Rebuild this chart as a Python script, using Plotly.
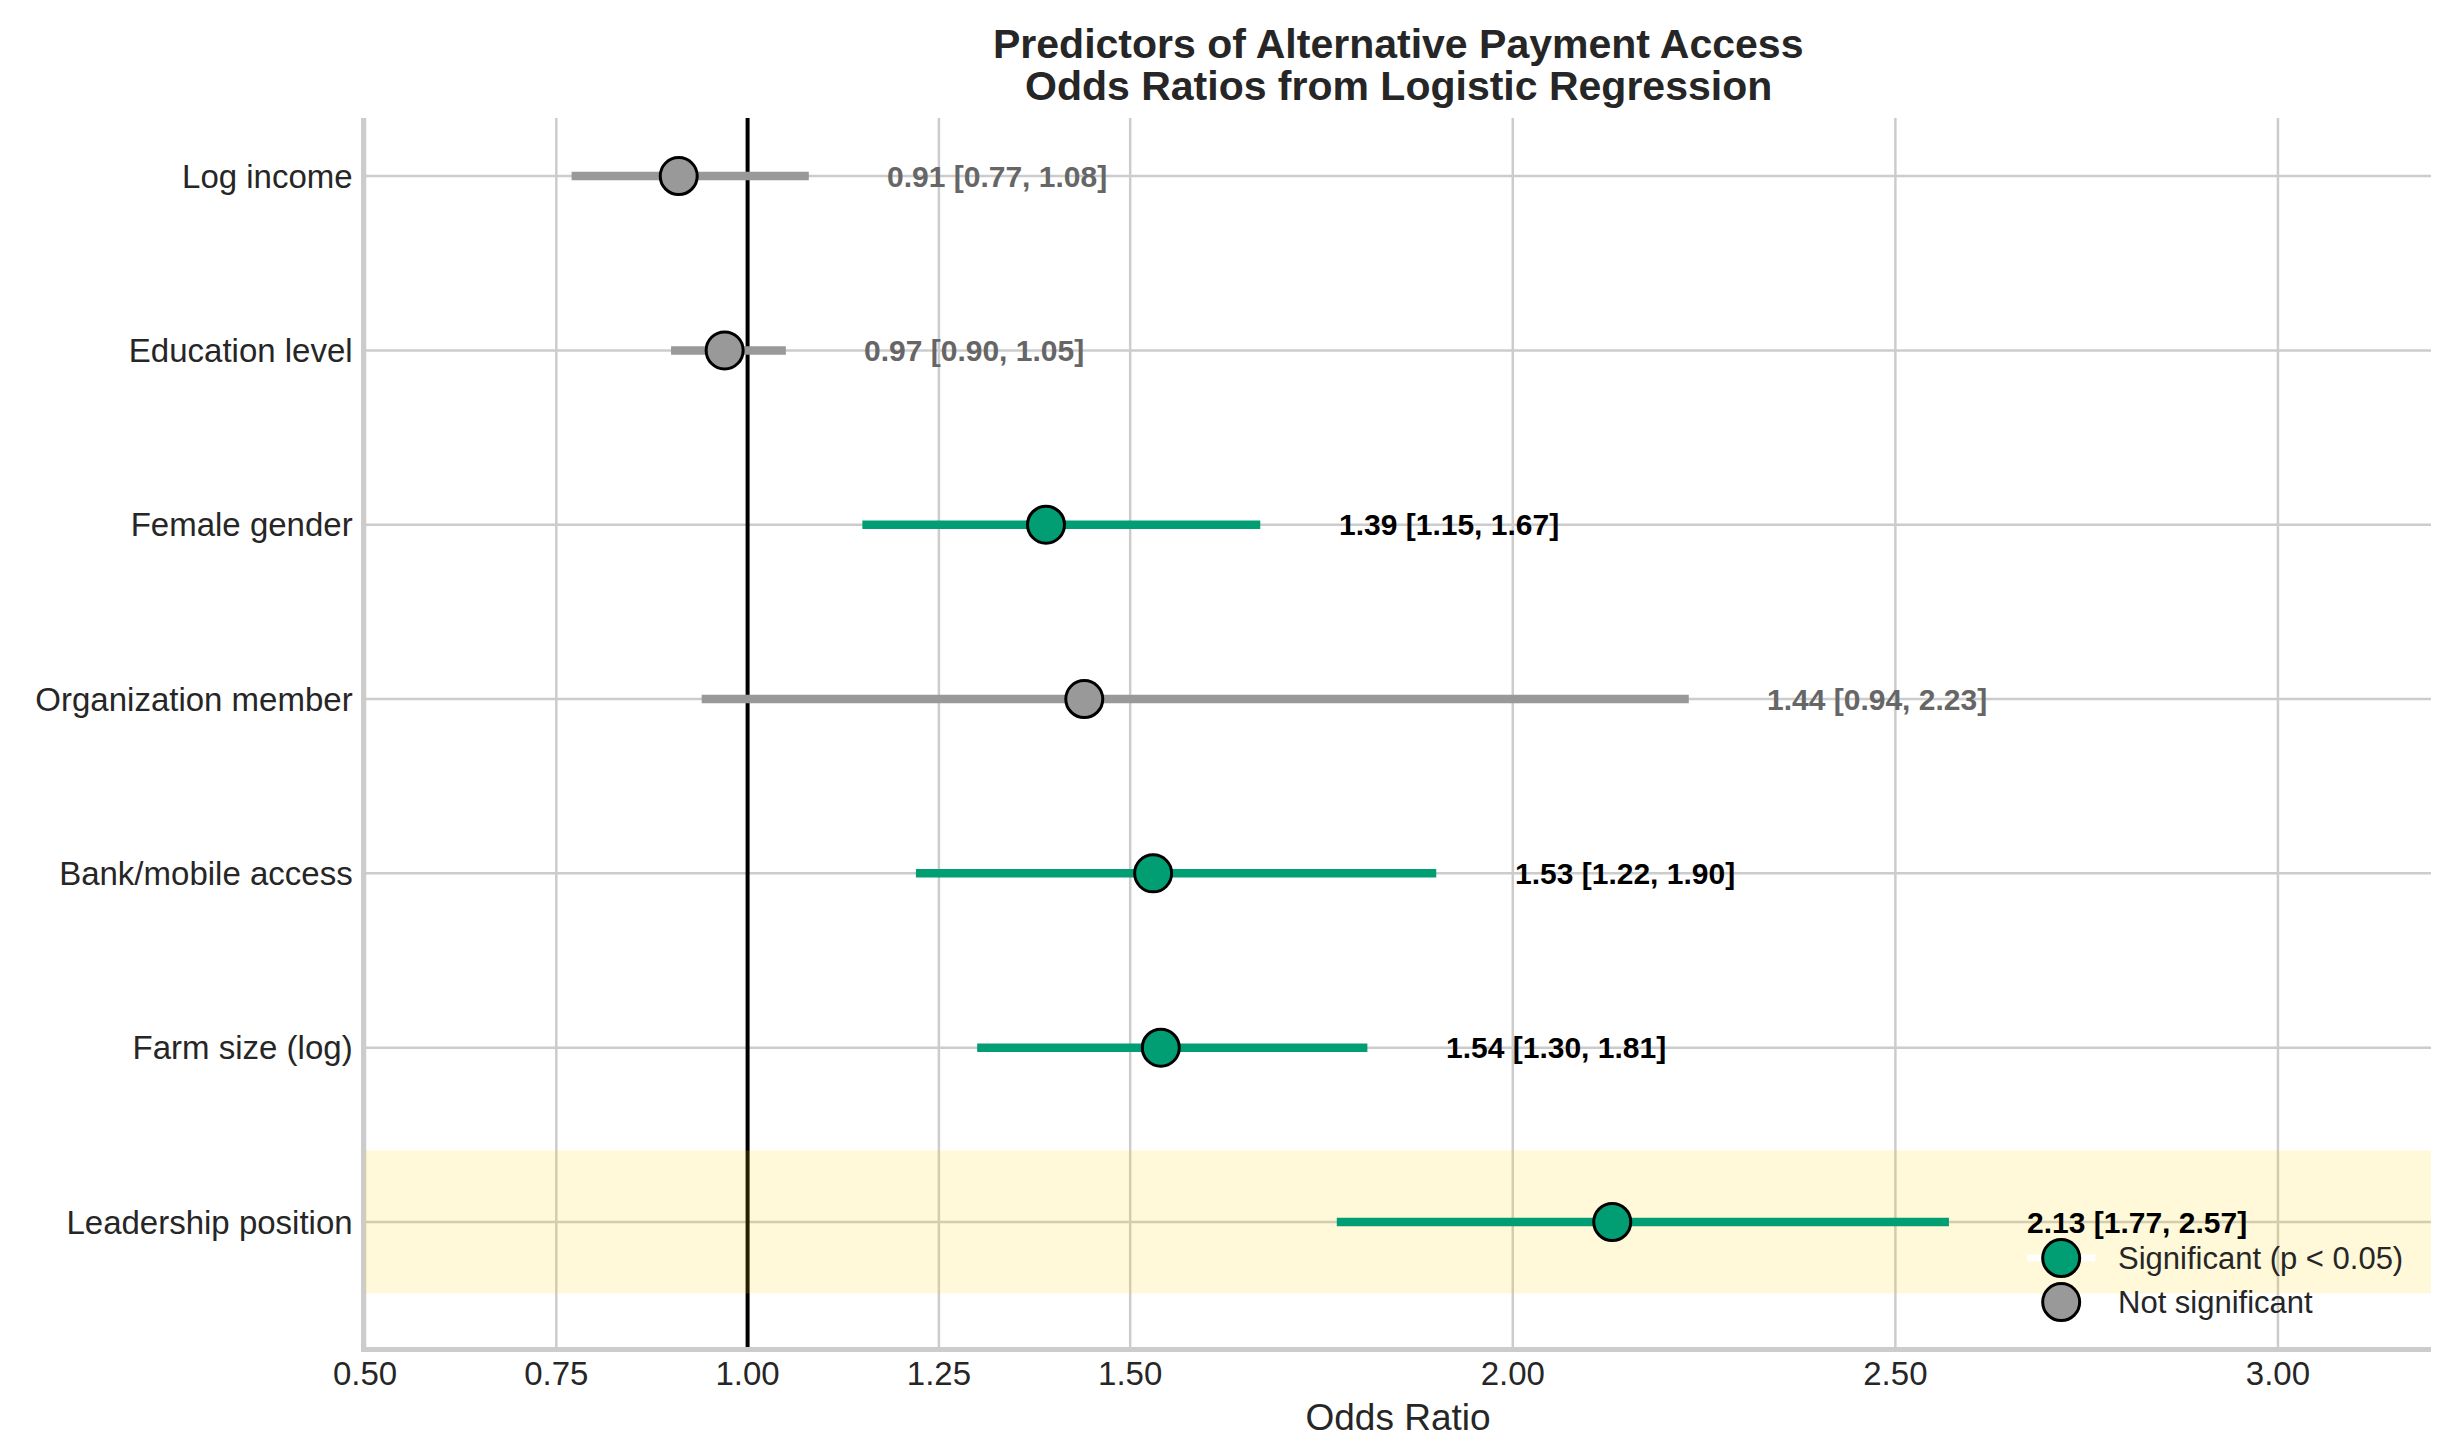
import plotly.graph_objects as go

# logistic regression output, top to bottom as shown
predictors = ["Log income", "Education level", "Female gender", "Organization member",
              "Bank/mobile access", "Farm size (log)", "Leadership position"]
odds_ratio = [0.91, 0.97, 1.39, 1.44, 1.53, 1.54, 2.13]
ci_lower = [0.77, 0.90, 1.15, 0.94, 1.22, 1.30, 1.77]
ci_upper = [1.08, 1.05, 1.67, 2.23, 1.90, 1.81, 2.57]
significant = [False, False, True, False, True, True, True]
highlight = "Leadership position"
x_ticks = [0.50, 0.75, 1.00, 1.25, 1.50, 2.00, 2.50, 3.00]

GREEN = "#029E73"
GRAY = "#999999"
GRID = "#cccccc"
FONT = "Liberation Sans, Arial, sans-serif"
DARK = "#262626"

fig = go.Figure()

groups = [(True, "Significant (p < 0.05)", GREEN), (False, "Not significant", GRAY)]
for flag, name, col in groups:
    idx = [i for i, s in enumerate(significant) if s == flag]
    fig.add_trace(go.Scatter(
        x=[odds_ratio[i] for i in idx],
        y=[predictors[i] for i in idx],
        mode="markers",
        name=name,
        marker=dict(size=37, color=col, line=dict(color="black", width=3)),
        error_x=dict(type="data", symmetric=False,
                     array=[ci_upper[i] - odds_ratio[i] for i in idx],
                     arrayminus=[odds_ratio[i] - ci_lower[i] for i in idx],
                     color=col, thickness=8.5, width=0),
        hoverinfo="skip",
        showlegend=False,
    ))

# value labels to the right of each interval
for i, p in enumerate(predictors):
    fig.add_annotation(
        x=ci_upper[i] + 0.1, y=p, xref="x", yref="y",
        text=f"{odds_ratio[i]:.2f} [{ci_lower[i]:.2f}, {ci_upper[i]:.2f}]",
        showarrow=False, xanchor="left", yanchor="middle",
        font=dict(family=FONT, size=30, color="black" if significant[i] else "#666666",
                  weight="bold"),
    )

# grid drawn as shapes so the reference line and highlight sit on top of it
for t in x_ticks:
    fig.add_shape(type="line", x0=t, x1=t, xref="x", y0=0, y1=1, yref="paper",
                  line=dict(color=GRID, width=2.5), layer="below")
for p in predictors:
    fig.add_shape(type="line", x0=0, x1=1, xref="paper", y0=p, y1=p, yref="y",
                  line=dict(color=GRID, width=2.5), layer="below")

# reference line at OR = 1 and highlighted row
fig.add_shape(type="line", x0=1, x1=1, xref="x", y0=0, y1=1, yref="paper",
              line=dict(color="black", width=4), layer="below")
order = predictors[::-1]
hi = order.index(highlight)
fig.add_shape(type="rect", x0=0, x1=1, xref="paper", y0=hi - 0.41, y1=hi + 0.41, yref="y",
              fillcolor="rgba(255,215,0,0.15)", line=dict(width=0), layer="below")

# hand-drawn legend (plotly caps legend marker size)
leg_x = 0.821
leg_y = [0.0724, 0.0366]
for (flag, name, col), ly in zip(groups, leg_y):
    if flag:
        fig.add_shape(type="line", xref="paper", yref="paper", xsizemode="pixel",
                      xanchor=leg_x, x0=-34, x1=34, y0=ly, y1=ly,
                      line=dict(color="white", width=7))
    fig.add_shape(type="circle", xref="paper", yref="paper",
                  xsizemode="pixel", ysizemode="pixel",
                  xanchor=leg_x, yanchor=ly, x0=-18.5, x1=18.5, y0=-18.5, y1=18.5,
                  fillcolor=col, line=dict(color="black", width=3))
    fig.add_annotation(x=leg_x + 0.0266, y=ly, xref="paper", yref="paper",
                       text=name, showarrow=False, xanchor="left", yanchor="middle",
                       font=dict(family=FONT, size=31, color=DARK))

# two-line title
for txt, ty in [("Predictors of Alternative Payment Access", 1.0602),
                ("Odds Ratios from Logistic Regression", 1.026)]:
    fig.add_annotation(x=0.5, y=ty, xref="paper", yref="paper", text=f"<b>{txt}</b>",
                       showarrow=False, xanchor="center", yanchor="middle",
                       font=dict(family=FONT, size=41, color=DARK))

fig.update_xaxes(
    range=[0.5, 3.2],
    tickvals=x_ticks, ticktext=[f"{v:.2f}" for v in x_ticks],
    showgrid=False, zeroline=False,
    showline=True, linecolor=GRID, linewidth=4.5, ticks="", ticklabelstandoff=-6,
    tickfont=dict(family=FONT, size=33, color=DARK),
    title=dict(text="Odds Ratio", font=dict(family=FONT, size=37, color=DARK), standoff=14),
)
fig.update_yaxes(
    type="category", categoryorder="array", categoryarray=order,
    range=[-0.717, len(order) - 0.667],
    showgrid=False, zeroline=False,
    showline=True, linecolor=GRID, linewidth=3.5, ticks="", ticklabelstandoff=2,
    tickfont=dict(family=FONT, size=33, color=DARK),
)
# page body has an 8px margin, so the figure is shrunk to keep the plot area in place
fig.update_layout(
    width=2445, height=1435,
    margin=dict(l=357, r=22, t=110, b=96),
    paper_bgcolor="white", plot_bgcolor="white",
    showlegend=False,
)
fig.write_html("out.html")
